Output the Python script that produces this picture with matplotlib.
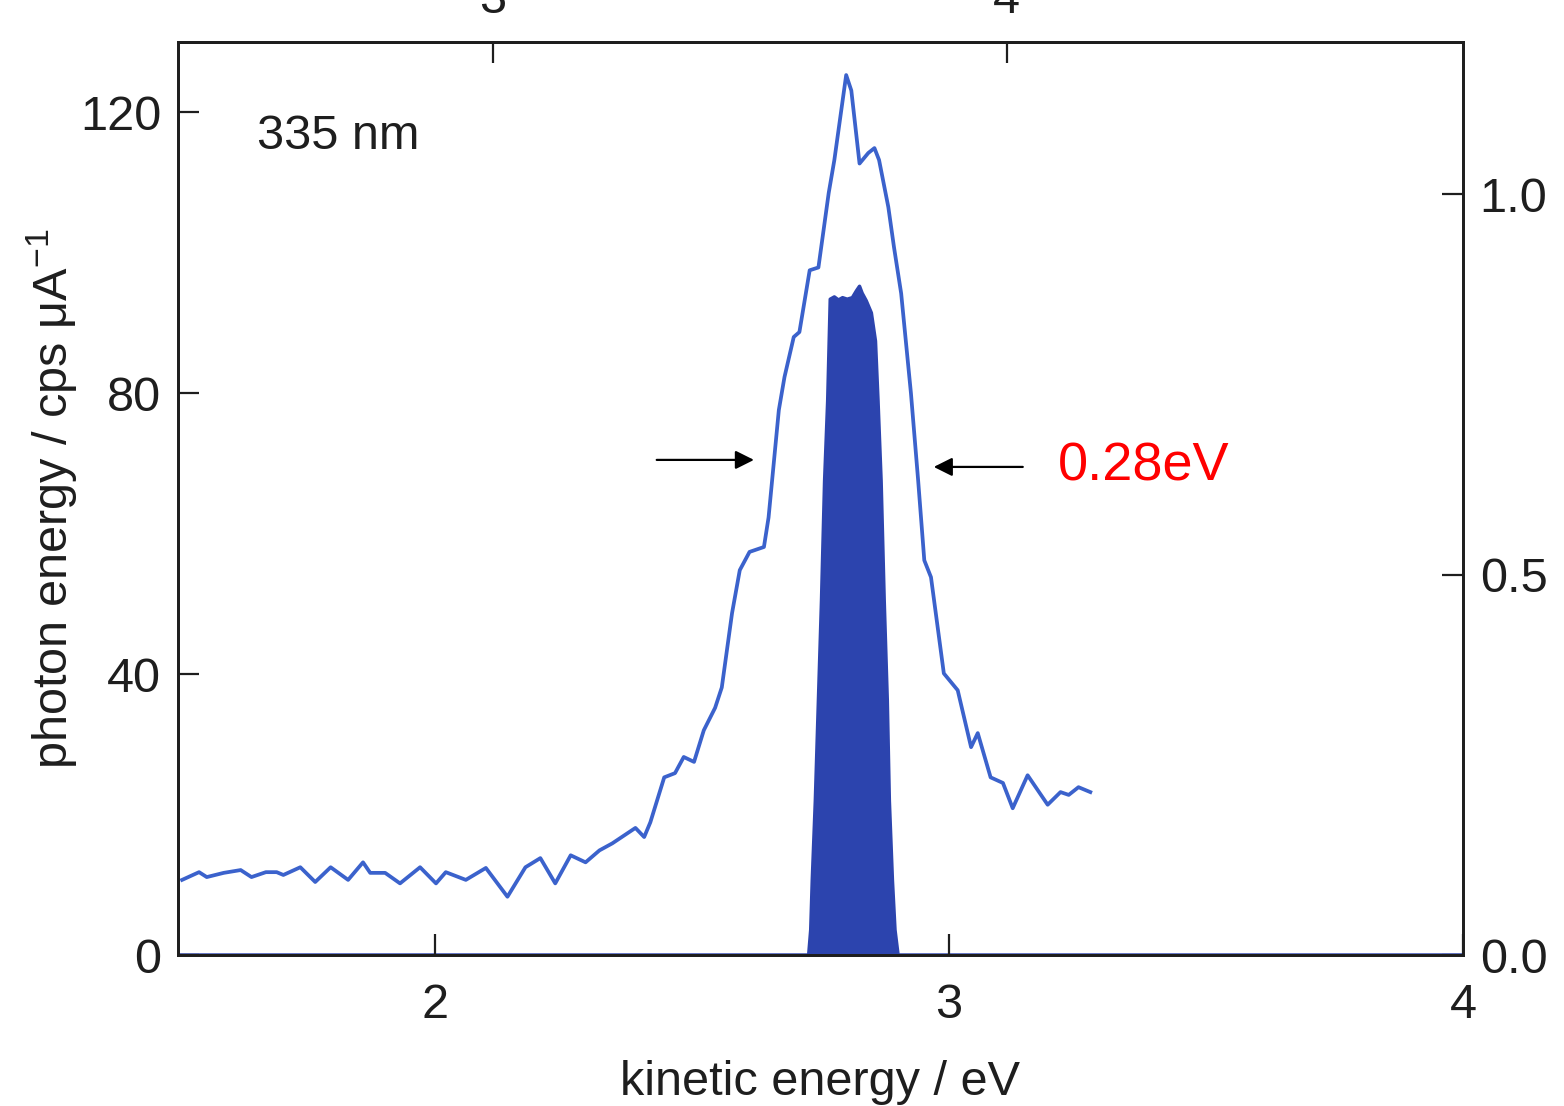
import matplotlib
matplotlib.use('Agg')
import matplotlib.pyplot as plt

plt.rcParams['font.family'] = ['Liberation Sans', 'DejaVu Sans']
plt.rcParams['mathtext.default'] = 'regular'

# measured photoelectron spectrum (left axis, cps / uA)
ke = [1.508, 1.541, 1.556, 1.589, 1.622, 1.643, 1.671, 1.692, 1.705, 1.738,
      1.767, 1.797, 1.831, 1.860, 1.874, 1.903, 1.932, 1.971, 2.002, 2.021,
      2.060, 2.099, 2.141, 2.176, 2.205, 2.234, 2.264, 2.293, 2.320, 2.345,
      2.390, 2.407, 2.419, 2.446, 2.467, 2.484, 2.504, 2.523, 2.545, 2.558,
      2.578, 2.593, 2.612, 2.640, 2.649, 2.669, 2.680, 2.698, 2.709, 2.729,
      2.746, 2.766, 2.777, 2.800, 2.810, 2.826, 2.843, 2.855, 2.864, 2.882,
      2.893, 2.907, 2.926, 2.940, 2.952, 2.965, 2.990, 3.017, 3.043, 3.056,
      3.081, 3.105, 3.124, 3.153, 3.192, 3.217, 3.233, 3.252, 3.275]
counts = [10.7, 11.8, 11.1, 11.7, 12.1, 11.1, 11.8, 11.8, 11.4, 12.5,
          10.4, 12.5, 10.7, 13.2, 11.7, 11.7, 10.2, 12.5, 10.2, 11.8,
          10.7, 12.4, 8.3, 12.5, 13.8, 10.2, 14.2, 13.2, 14.9, 15.9,
          18.1, 16.8, 18.9, 25.3, 25.9, 28.2, 27.5, 32.0, 35.2, 38.1,
          48.7, 54.8, 57.4, 58.1, 62.3, 77.6, 82.3, 88.0, 88.7, 97.5,
          97.9, 108.5, 113.2, 125.3, 123.1, 112.7, 114.2, 114.9, 113.2, 106.5,
          100.8, 94.2, 80.0, 67.6, 56.2, 53.8, 40.1, 37.7, 29.6, 31.6,
          25.3, 24.5, 20.9, 25.6, 21.4, 23.2, 22.8, 23.9, 23.2]

# excitation light profile (right axis, normalised)
ke_light = [1.5, 2.727, 2.731, 2.734, 2.740, 2.746, 2.752, 2.758, 2.764, 2.769,
            2.777, 2.785, 2.793, 2.802, 2.812, 2.820, 2.826, 2.831, 2.839,
            2.849, 2.857, 2.862, 2.868, 2.874, 2.880, 2.884, 2.890, 2.895,
            2.901, 4.0]
light = [0.0, 0.0, 0.033, 0.098, 0.203, 0.335, 0.466, 0.623, 0.728, 0.862,
         0.865, 0.861, 0.864, 0.862, 0.864, 0.873, 0.879, 0.870, 0.860,
         0.844, 0.807, 0.728, 0.623, 0.466, 0.335, 0.203, 0.098, 0.033,
         0.0, 0.0]

# FWHM markers
fwhm_left = 2.626
fwhm_right = 2.965
fwhm_y = 70.5
fwhm_text = '0.28eV'

left_ticks = [0, 40, 80, 120]
right_ticks = [0.0, 0.5, 1.0]
bottom_ticks = [2, 3, 4]
top_ticks = [3, 4]
top_offset = 0.888

LINE_BLUE = '#3b62cc'
FILL_BLUE = '#2c44ae'
INK = '#1e1e1e'
FS = 35

fig = plt.figure(figsize=(15.64, 11.06), dpi=100)
ax = fig.add_axes([0.1138, 0.1365, 0.8216, 0.8255])
ax2 = ax.twinx()

ax2.fill_between(ke_light, light, 0, color=FILL_BLUE, lw=0)
ax2.plot(ke_light, light, color=FILL_BLUE, lw=2.5)
ax.plot(ke, counts, color=LINE_BLUE, lw=2.7, solid_joinstyle='round')

ax.set_zorder(ax2.get_zorder() + 1)
ax.patch.set_visible(False)

ax.set_xlim(1.5, 4.0)
ax.set_ylim(0, 130)
ax2.set_ylim(0, 1.2)

ax.set_xticks(bottom_ticks)
ax.set_yticks(left_ticks)
ax2.set_yticks(right_ticks)
ax2.set_yticklabels(['%.1f' % v for v in right_ticks])

ax.tick_params(axis='both', direction='in', length=15, width=1.6,
               labelsize=FS, colors=INK)
ax.tick_params(axis='x', pad=20)
ax.tick_params(axis='y', pad=12)
ax2.tick_params(axis='y', direction='in', length=15, width=1.6,
                labelsize=FS, pad=12, colors=INK)

secax = ax.secondary_xaxis('top', functions=(lambda x: x + top_offset,
                                             lambda x: x - top_offset))
secax.set_xticks(top_ticks)
secax.tick_params(direction='in', length=15, width=1.6, labelsize=FS,
                  pad=14, colors=INK)

for a in (ax, ax2):
    for s in a.spines.values():
        s.set_linewidth(2.0)
        s.set_color(INK)
secax.spines['top'].set_linewidth(2.0)
secax.spines['top'].set_color(INK)

ax.set_xlabel('kinetic energy / eV', fontsize=FS, labelpad=23, color=INK)
ax.set_ylabel('photon energy / cps μA$^{-1}$', fontsize=FS, labelpad=0,
              color=INK)

ax.text(1.653, 116.6, '335 nm', fontsize=FS, va='center', ha='left',
        color=INK)

arrow = dict(arrowstyle='-|>', color='black', lw=1.6, mutation_scale=28)
ax.annotate('', xy=(fwhm_left, fwhm_y), xytext=(fwhm_left - 0.2, fwhm_y),
            arrowprops=arrow)
ax.annotate('', xy=(fwhm_right, fwhm_y - 1), xytext=(fwhm_right + 0.184, fwhm_y - 1),
            arrowprops=arrow)
ax.text(3.211, fwhm_y - 1, fwhm_text, fontsize=39, color='red',
        va='center', ha='left')

fig.savefig('out.png', dpi=100)
